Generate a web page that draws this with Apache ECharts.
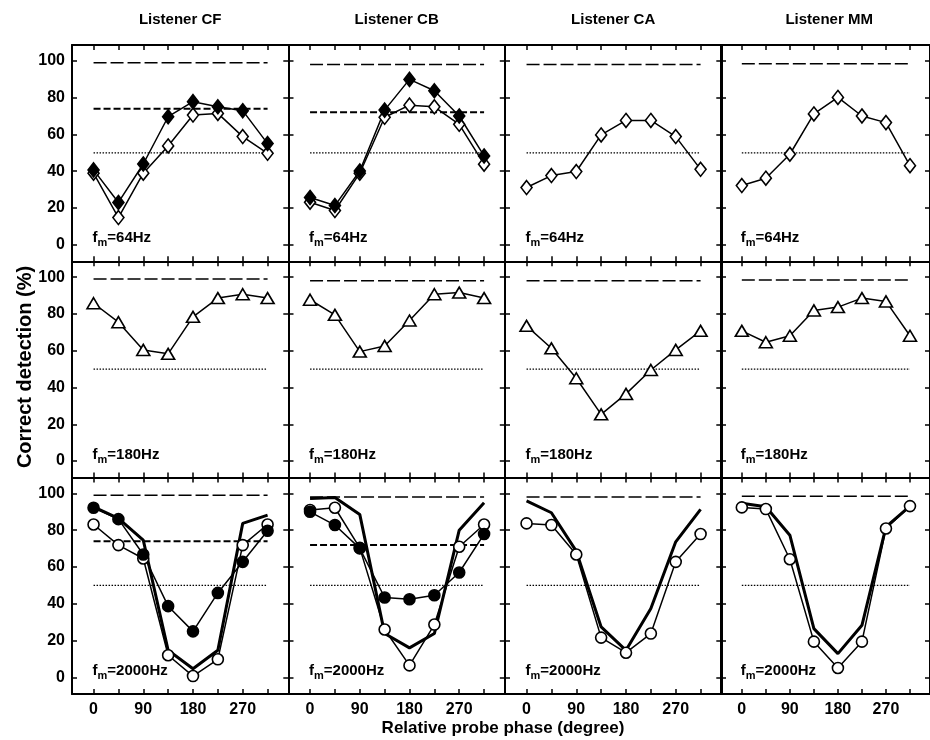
<!DOCTYPE html>
<html><head><meta charset="utf-8">
<script src="https://cdn.jsdelivr.net/npm/echarts@6/dist/echarts.min.js"></script>
<style>html,body{margin:0;padding:0;background:#fff}#c{width:930px;height:740px}</style>
</head><body><div id="c"></div>
<script>
// ---------- data ----------
const phases = [0, 45, 90, 135, 180, 225, 270, 315];
const phaseTicks = [0, 45, 90, 135, 180, 225, 270, 315];
const phaseLabels = [0, 90, 180, 270];
const pctTicks = [0, 20, 40, 60, 80, 100];
const listeners = ['Listener CF', 'Listener CB', 'Listener CA', 'Listener MM'];
const modFreqs = ['64Hz', '180Hz', '2000Hz'];
const xTitle = 'Relative probe phase (degree)';
const yTitle = 'Correct detection (%)';

const ceilingLevel = [99, 98, 98, 98.4];
const criterionLevel = [74, 72, null, null];
const chanceLevel = 50;

// fm = 64 Hz
const cf64Filled = [40.7, 23.0, 43.9, 69.6, 77.8, 75.0, 72.9, 55.0];
const cf64Open   = [38.9, 14.8, 38.9, 53.7, 70.5, 71.4, 58.8, 49.7];
const cb64Filled = [25.7, 21.3, 40.1, 73.2, 89.9, 83.7, 70.0, 48.3];
const cb64Open   = [23.1, 18.6, 38.9, 69.3, 75.9, 75.0, 65.5, 43.8];
const ca64Open   = [31.1, 37.6, 39.8, 59.7, 67.6, 67.6, 58.8, 41.0];
const mm64Open   = [32.2, 36.2, 49.2, 71.1, 80.1, 70.0, 66.4, 43.0];
// fm = 180 Hz
const cf180 = [85.8, 75.5, 60.4, 58.3, 78.4, 88.6, 90.7, 88.6];
const cb180 = [87.7, 79.5, 59.5, 62.6, 76.4, 90.7, 91.6, 88.6];
const ca180 = [73.5, 61.3, 45.0, 25.4, 36.5, 49.5, 60.4, 70.8];
const mm180 = [70.8, 64.6, 68.1, 81.9, 83.7, 88.6, 86.8, 68.1];
// fm = 2000 Hz
const cf2000Filled = [92.2, 86.0, 66.8, 38.7, 25.0, 45.9, 62.8, 79.7];
const cf2000Open   = [83.1, 71.9, 64.6, 12.0, 0.7, 9.8, 71.9, 83.1];
const cf2000Model  = [92.7, 86.4, 74.6, 14.7, 4.7, 14.7, 83.7, 88.2];
const cb2000Filled = [90.0, 82.8, 70.1, 43.4, 42.5, 44.6, 57.0, 77.9];
const cb2000Open   = [91.0, 92.2, 70.4, 26.0, 6.5, 28.7, 71.0, 83.1];
const cb2000Model  = [97.3, 97.8, 88.6, 23.8, 16.0, 23.8, 80.0, 94.9];
const ca2000Open   = [83.7, 82.8, 66.8, 21.6, 13.4, 23.8, 62.8, 77.9];
const ca2000Model  = [96.0, 89.5, 68.6, 27.4, 14.7, 37.4, 73.7, 91.3];
const mm2000Open   = [92.4, 91.5, 64.2, 19.4, 5.1, 19.4, 80.9, 93.1];
const mm2000Model  = [94.6, 92.7, 77.3, 26.5, 12.9, 28.3, 81.8, 93.1];

const panels = [
  [[['open', 'diamond', cf64Open], ['filled', 'diamond', cf64Filled]],
   [['open', 'diamond', cb64Open], ['filled', 'diamond', cb64Filled]],
   [['open', 'diamond', ca64Open]],
   [['open', 'diamond', mm64Open]]],
  [[['open', 'triangle', cf180]],
   [['open', 'triangle', cb180]],
   [['open', 'triangle', ca180]],
   [['open', 'triangle', mm180]]],
  [[['model', cf2000Model], ['open', 'circle', cf2000Open], ['filled', 'circle', cf2000Filled]],
   [['model', cb2000Model], ['open', 'circle', cb2000Open], ['filled', 'circle', cb2000Filled]],
   [['model', ca2000Model], ['open', 'circle', ca2000Open]],
   [['model', mm2000Model], ['open', 'circle', mm2000Open]]]
];

// ---------- layout ----------
const FONT = '"Liberation Sans", Arial, sans-serif';
const colLeft = [72, 288.5, 505, 721];
const colW = 216.3;
const rowTop = [45, 261.3, 477.6];
const rowH = 216.3;
const X_MIN = -39, X_MAX = 352.5, Y_MIN = -9, Y_MAX = 108.6;

const chart = echarts.init(document.getElementById('c'), null, {renderer: 'canvas'});
const grids = [], xAxes = [], yAxes = [], series = [];
const pairs = v => phases.map((p, i) => [p, v[i]]);
const symSize = {diamond: [11, 14], triangle: [13, 11], circle: 11};

for (let r = 0; r < 3; r++) {
  for (let c = 0; c < 4; c++) {
    const g = r * 4 + c;
    grids.push({left: colLeft[c], top: rowTop[r], width: colW, height: rowH, containLabel: false});
    const axLine = {show: true, onZero: false, lineStyle: {color: '#000', width: 2}};
    const xBase = {type: 'value', gridIndex: g, min: X_MIN, max: X_MAX, splitLine: {show: false},
      axisLine: axLine, axisTick: {show: true, inside: true, length: 5, customValues: phaseTicks, lineStyle: {color: '#000', width: 1.5}}};
    xAxes.push(Object.assign({}, xBase, {position: 'bottom',
      axisLabel: {show: r === 2, customValues: phaseLabels, margin: 8, color: '#000', fontSize: 16, fontWeight: 'bold', fontFamily: FONT}}));
    xAxes.push(Object.assign({}, xBase, {position: 'top', axisLabel: {show: false}}));
    const yBase = {type: 'value', gridIndex: g, min: Y_MIN, max: Y_MAX, splitLine: {show: false},
      axisLine: axLine, axisTick: {show: true, inside: true, length: 5, customValues: pctTicks, lineStyle: {color: '#000', width: 1.5}}};
    yAxes.push(Object.assign({}, yBase, {position: 'left',
      axisLabel: {show: c === 0, customValues: pctTicks, margin: 7, color: '#000', fontSize: 16, fontWeight: 'bold', fontFamily: FONT}}));
    yAxes.push(Object.assign({}, yBase, {position: 'right', axisLabel: {show: false}}));

    const xi = 2 * g, yi = 2 * g;
    const refLine = (lvl, dash, w) => ({type: 'line', xAxisIndex: xi, yAxisIndex: yi, silent: true, animation: false,
      symbol: 'none', data: [[phases[0], lvl], [phases[phases.length - 1], lvl]],
      lineStyle: {color: '#000', width: w, type: dash}});
    series.push(refLine(ceilingLevel[c], [13, 4], 1.5));
    series.push(refLine(chanceLevel, [1.5, 1.5], 1.3));
    if (r !== 1 && criterionLevel[c] !== null) series.push(refLine(criterionLevel[c], [7, 3], 2));

    panels[r][c].forEach(s => {
      if (s[0] === 'model') {
        series.push({type: 'line', xAxisIndex: xi, yAxisIndex: yi, silent: true, animation: false,
          symbol: 'none', data: pairs(s[1]), lineStyle: {color: '#000', width: 3}});
      } else {
        const filled = s[0] === 'filled';
        series.push({type: 'line', xAxisIndex: xi, yAxisIndex: yi, silent: true, animation: false,
          data: pairs(s[2]), symbol: s[1], symbolSize: symSize[s[1]], showAllSymbol: true,
          lineStyle: {color: '#000', width: 1.5},
          itemStyle: {color: filled ? '#000' : '#fff', borderColor: '#000', borderWidth: 1.6}});
      }
    });
  }
}

chart.setOption({animation: false, backgroundColor: '#fff', grid: grids, xAxis: xAxes, yAxis: yAxes, series: series});

// ---------- texts ----------
const graphics = [];
listeners.forEach((t, c) => {
  graphics.push({type: 'text', x: colLeft[c] + colW / 2, y: 20,
    style: {text: t, fill: '#000', font: 'bold 15px ' + FONT, align: 'center', verticalAlign: 'middle'}});
});
for (let r = 0; r < 3; r++) {
  for (let c = 0; c < 4; c++) {
    const g = r * 4 + c;
    const p = chart.convertToPixel({gridIndex: g}, [0, 0]);
    graphics.push({type: 'text', x: p[0] - 1, y: p[1] - 14,
      style: {text: '{a|f}{b|m}{a|=' + modFreqs[r] + '}', fill: '#000', align: 'left', verticalAlign: 'top',
        rich: {a: {fontSize: 15, fontWeight: 'bold', fontFamily: FONT, verticalAlign: 'top', lineHeight: 16},
               b: {fontSize: 11, fontWeight: 'bold', fontFamily: FONT, verticalAlign: 'top', lineHeight: 11, padding: [7, 0, 0, 0]}}}});
  }
}
graphics.push({type: 'text', x: 25, y: 367, rotation: Math.PI / 2,
  style: {text: yTitle, fill: '#000', font: 'bold 20px ' + FONT, align: 'center', verticalAlign: 'middle'}});
graphics.push({type: 'text', x: 503, y: 728,
  style: {text: xTitle, fill: '#000', font: 'bold 17px ' + FONT, align: 'center', verticalAlign: 'middle'}});
chart.setOption({graphic: graphics});
</script>
</body></html>
